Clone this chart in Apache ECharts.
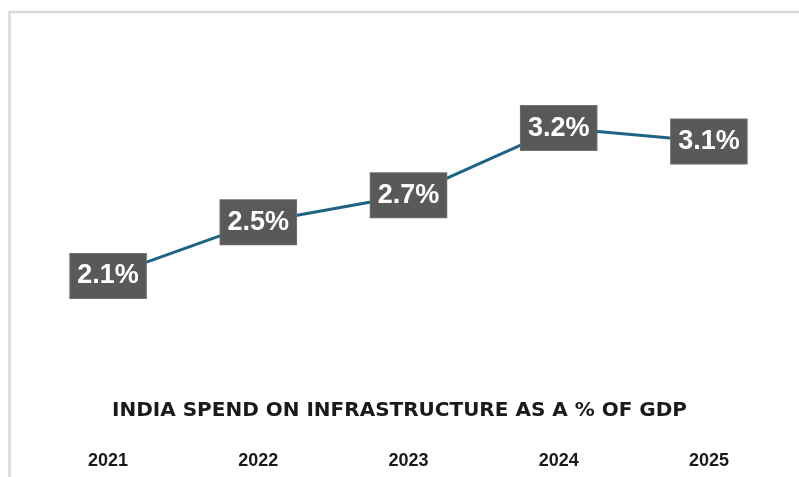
<!DOCTYPE html>
<html>
<head>
<meta charset="utf-8">
<script src="https://cdn.jsdelivr.net/npm/echarts@6/dist/echarts.min.js"></script>
<style>html,body{margin:0;padding:0;background:#fff}#c{width:799px;height:477px}</style>
</head>
<body>
<div id="c"></div>
<script>
var years = ['2021', '2022', '2023', '2024', '2025'];
var spendPct = [2.1, 2.5, 2.7, 3.2, 3.1];
var titleText = 'INDIA SPEND ON INFRASTRUCTURE AS A % OF GDP';

var chart = echarts.init(document.getElementById('c'));
chart.setOption({
  backgroundColor: '#ffffff',
  animation: false,
  title: {
    text: titleText,
    left: 'center',
    top: 396,
    textStyle: {
      fontFamily: 'DejaVu Sans',
      fontWeight: 'bold',
      fontSize: 20,
      color: '#1a1a1a'
    }
  },
  graphic: [{
    type: 'rect',
    shape: { x: 9.5, y: 12, width: 900, height: 600 },
    style: { fill: 'none', stroke: '#d9d9d9', lineWidth: 2.5 },
    silent: true
  }],
  grid: { left: 33, right: 15, top: 38, bottom: 29 },
  xAxis: {
    type: 'category',
    data: years,
    boundaryGap: true,
    axisLine: { show: false },
    axisTick: { show: false },
    axisLabel: {
      margin: 4,
      fontFamily: 'Liberation Sans',
      fontWeight: 'bold',
      fontSize: 18,
      color: '#1a1a1a'
    }
  },
  yAxis: {
    type: 'value',
    min: 0.82,
    max: 3.87,
    show: false,
    splitLine: { show: false }
  },
  series: [{
    type: 'line',
    data: spendPct,
    symbol: 'circle',
    symbolSize: 1,
    showSymbol: true,
    itemStyle: { color: '#1d6385' },
    lineStyle: { color: '#1d6385', width: 3 },
    label: {
      show: true,
      position: 'inside',
      formatter: function (p) { return p.value.toFixed(1) + '%'; },
      backgroundColor: '#595959',
      borderColor: '#6e6e6e',
      borderWidth: 1,
      color: '#ffffff',
      fontFamily: 'Liberation Sans',
      fontWeight: 'bold',
      fontSize: 27,
      lineHeight: 30,
      padding: [7, 7, 7, 7]
    }
  }]
});
</script>
</body>
</html>
